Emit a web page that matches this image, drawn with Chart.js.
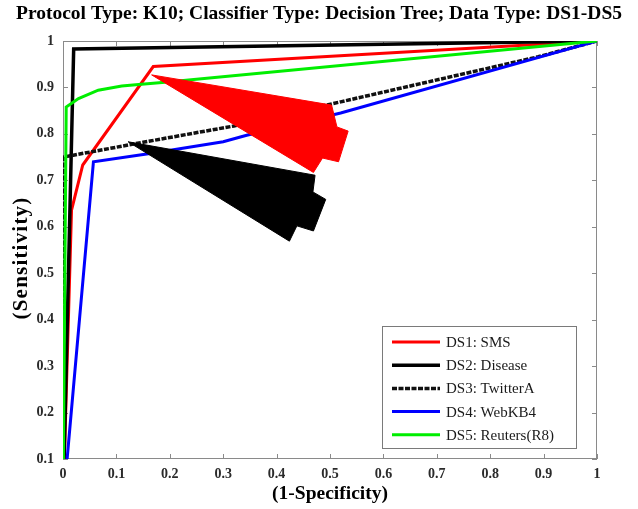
<!DOCTYPE html>
<html>
<head>
<meta charset="utf-8">
<script src="https://cdn.jsdelivr.net/npm/chart.js@4.4.1/dist/chart.umd.min.js"></script>
<style>
  html, body { margin: 0; padding: 0; background: #ffffff; }
  #wrap { width: 638px; height: 509px; }
</style>
</head>
<body>
<div id="wrap"><canvas id="roc" width="638" height="509"></canvas></div>
<script>
// ROC curves: (1-Specificity) on x, Sensitivity on y
const seriesNames = ['DS1: SMS', 'DS2: Disease', 'DS3: TwitterA', 'DS4: WebKB4', 'DS5: Reuters(R8)'];

const ds1X = [0, 0.016, 0.037, 0.169, 1];
const ds1Y = [0, 0.636, 0.733, 0.945, 1];

const ds2X = [0, 0.02, 1];
const ds2Y = [0, 0.983, 1];

const ds3X = [0, 0, 0.15, 0.32, 0.52, 0.89, 1];
const ds3Y = [0, 0.75, 0.782, 0.817, 0.869, 0.966, 1];

const ds4X = [0, 0.057, 0.163, 0.3, 0.344, 0.52, 1];
const ds4Y = [0, 0.74, 0.758, 0.783, 0.797, 0.845, 1];

const ds5X = [0, 0.006, 0.029, 0.066, 0.11, 0.147, 0.191, 1];
const ds5Y = [0, 0.858, 0.876, 0.894, 0.903, 0.907, 0.911, 1];

// arrow annotations (closed outlines in axis units)
const redArrowX = [0.166, 0.503, 0.513, 0.534, 0.516, 0.486, 0.469, 0.166];
const redArrowY = [0.927, 0.862, 0.815, 0.806, 0.740, 0.748, 0.717, 0.927];
const blackArrowX = [0.122, 0.472, 0.468, 0.492, 0.469, 0.438, 0.424, 0.122];
const blackArrowY = [0.783, 0.711, 0.675, 0.659, 0.591, 0.602, 0.569, 0.783];

const xTickLabels = ['0', '0.1', '0.2', '0.3', '0.4', '0.5', '0.6', '0.7', '0.8', '0.9', '1'];
const yTickLabels = ['0.1', '0.2', '0.3', '0.4', '0.5', '0.6', '0.7', '0.8', '0.9', '1'];
const yAxisTitle = '(Sensitivity)';

const SERIF = "'Liberation Serif', 'Times New Roman', serif";

function pts(xs, ys) { return xs.map((x, i) => ({ x: x, y: ys[i] })); }

const curveStyle = [
  { color: '#ff0000', width: 3, dash: [], order: 5 },
  { color: '#000000', width: 3.5, dash: [], order: 4 },
  { color: '#111111', width: 3.5, dash: [5, 1.5], order: 3 },
  { color: '#0000ff', width: 3, dash: [], order: 2 },
  { color: '#00ee00', width: 3, dash: [], order: 1 }
];
const curveData = [pts(ds1X, ds1Y), pts(ds2X, ds2Y), pts(ds3X, ds3Y), pts(ds4X, ds4Y), pts(ds5X, ds5Y)];

const datasets = seriesNames.map((name, i) => ({
  label: name,
  data: curveData[i],
  showLine: true,
  borderColor: curveStyle[i].color,
  backgroundColor: curveStyle[i].color,
  borderWidth: curveStyle[i].width,
  borderDash: curveStyle[i].dash,
  pointRadius: 0,
  tension: 0,
  fill: false,
  order: curveStyle[i].order
}));

function arrowSet(xs, ys, color) {
  return {
    label: '',
    isArrow: true,
    data: pts(xs, ys),
    showLine: true,
    borderColor: color,
    backgroundColor: color,
    borderWidth: 1,
    pointRadius: 0,
    tension: 0,
    fill: 'shape',
    order: 0
  };
}
datasets.push(arrowSet(redArrowX, redArrowY, '#ff0000'));
datasets.push(arrowSet(blackArrowX, blackArrowY, '#000000'));

// axes box with inward tick marks on all four sides
const boxPlugin = {
  id: 'axesBox',
  beforeDatasetsDraw(chart) {
    const { ctx, chartArea: a, scales } = chart;
    ctx.save();
    ctx.strokeStyle = '#8a8a8a';
    ctx.lineWidth = 1;
    ctx.strokeRect(a.left + 0.5, a.top + 0.5, a.right - a.left - 1, a.bottom - a.top - 1);
    const len = 5;
    ctx.beginPath();
    scales.x.ticks.forEach(t => {
      const px = Math.round(scales.x.getPixelForValue(t.value)) + 0.5;
      ctx.moveTo(px, a.bottom); ctx.lineTo(px, a.bottom - len);
      ctx.moveTo(px, a.top); ctx.lineTo(px, a.top + len);
    });
    scales.y.ticks.forEach(t => {
      const py = Math.round(scales.y.getPixelForValue(t.value)) + 0.5;
      ctx.moveTo(a.left, py); ctx.lineTo(a.left + len, py);
      ctx.moveTo(a.right, py); ctx.lineTo(a.right - len, py);
    });
    ctx.stroke();
    ctx.restore();
  },
  afterDraw(chart) {
    // rotated y-axis title
    const { ctx, chartArea: a } = chart;
    ctx.save();
    ctx.translate(22, (a.top + a.bottom) / 2 + 8);
    ctx.rotate(-Math.PI / 2);
    ctx.font = 'bold 21px ' + SERIF;
    if ('letterSpacing' in ctx) ctx.letterSpacing = '1.2px';
    ctx.fillStyle = '#000000';
    ctx.textAlign = 'center';
    ctx.textBaseline = 'middle';
    ctx.fillText(yAxisTitle, 0, 0);
    ctx.restore();
  }
};

// boxed legend in the lower-right corner of the plot
const legendPlugin = {
  id: 'boxLegend',
  afterDatasetsDraw(chart) {
    const { ctx, chartArea: a } = chart;
    const items = chart.data.datasets.filter(d => !d.isArrow);
    const w = 194, rowH = 23.2, h = 122;
    const x0 = a.right - 21 - w, y0 = a.bottom - 11 - h;
    ctx.save();
    ctx.fillStyle = '#ffffff';
    ctx.fillRect(x0, y0, w, h);
    ctx.strokeStyle = '#7a7a7a';
    ctx.lineWidth = 1;
    ctx.strokeRect(x0 + 0.5, y0 + 0.5, w, h);
    ctx.font = '15px ' + SERIF;
    ctx.textBaseline = 'middle';
    ctx.fillStyle = '#1a1a1a';
    items.forEach((d, i) => {
      const cy = y0 + 16 + i * rowH;
      ctx.beginPath();
      ctx.strokeStyle = d.borderColor;
      ctx.lineWidth = d.borderWidth;
      ctx.setLineDash(d.borderDash || []);
      ctx.moveTo(x0 + 10, cy); ctx.lineTo(x0 + 58, cy);
      ctx.stroke();
      ctx.setLineDash([]);
      ctx.fillText(d.label, x0 + 64, cy + 1);
    });
    ctx.restore();
  }
};

new Chart(document.getElementById('roc'), {
  type: 'scatter',
  data: { datasets: datasets },
  plugins: [boxPlugin, legendPlugin],
  options: {
    responsive: false,
    animation: false,
    layout: { padding: { left: 0, right: 0, top: 0, bottom: 0 } },
    plugins: {
      legend: { display: false },
      tooltip: { enabled: false },
      title: {
        display: true,
        text: 'Protocol Type: K10; Classifier Type: Decision Tree; Data Type: DS1-DS5',
        color: '#000000',
        font: { family: SERIF, size: 19.5, weight: 'bold' },
        padding: { top: 2, bottom: 15.6 }
      }
    },
    scales: {
      x: {
        type: 'linear',
        min: 0, max: 1,
        afterFit(scale) { scale.height = 50; },
        grid: { display: false, drawTicks: false },
        border: { display: false },
        ticks: {
          stepSize: 0.1,
          padding: 7,
          color: '#2a2a2a',
          font: { family: SERIF, size: 14, weight: 'bold' },
          maxRotation: 0,
          callback: (v, i) => xTickLabels[i]
        },
        title: {
          display: true,
          text: '(1-Specificity)',
          color: '#000000',
          font: { family: SERIF, size: 19.5, weight: 'bold' },
          padding: { top: 0, bottom: 3 }
        }
      },
      y: {
        type: 'linear',
        min: 0.1, max: 1,
        afterFit(scale) { scale.width = 63; },
        grid: { display: false, drawTicks: false },
        border: { display: false },
        ticks: {
          stepSize: 0.1,
          padding: 9,
          color: '#2a2a2a',
          font: { family: SERIF, size: 14, weight: 'bold' },
          callback: (v, i) => yTickLabels[i]
        },
        title: { display: false }
      },
      // empty right margin beside the plot box
      yRight: {
        type: 'linear',
        position: 'right',
        min: 0.1, max: 1,
        afterFit(scale) { scale.width = 41; },
        grid: { display: false, drawTicks: false },
        border: { display: false },
        ticks: { display: false }
      }
    }
  }
});
</script>
</body>
</html>
